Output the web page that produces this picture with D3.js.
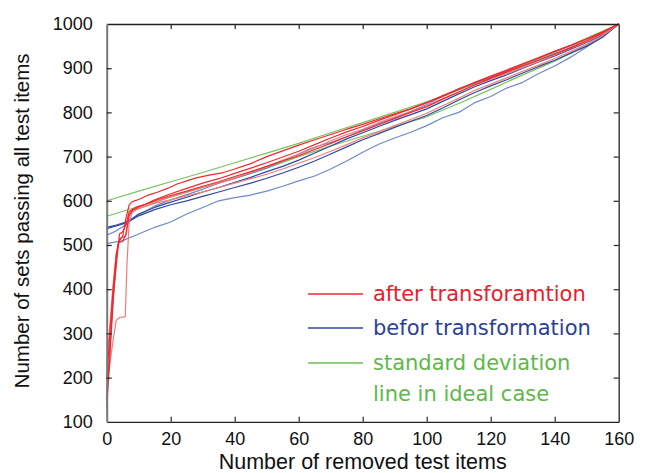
<!DOCTYPE html>
<html>
<head>
<meta charset="utf-8">
<script src="https://cdn.jsdelivr.net/npm/d3@7"></script>
<style>
  html, body { margin: 0; padding: 0; background: #fff; }
  svg { display: block; }
</style>
</head>
<body>
<svg id="chart" width="648" height="473"></svg>
<script>
// ---------- data ----------
const xTicks = [0, 20, 40, 60, 80, 100, 120, 140, 160];
const yTicks = [100, 200, 300, 400, 500, 600, 700, 800, 900, 1000];

const greenUpper = [[0,600],[10,622],[20,643],[30,664],[40,686],[50,708],[60,730],[70,754],[80,777],[90,800],[100,824],[110,851],[120,878],[130,907],[140,936],[150,968],[160,1000]];
const greenLower = [[0,565],[10,587],[20,608],[30,630],[40,650],[50,674],[60,700],[70,724],[80,746],[90,768],[100,790],[110,820],[120,852],[130,885],[140,916],[150,952],[160,1000]];

const red1 = [[0,195],[1,300],[2,400],[3,480],[4,510],[5,520],[6,560],[7,590],[8,598],[10,603],[13,613],[16,620],[19,628],[22,638],[25,645],[28,652],[32,658],[36,663],[40,672],[45,684],[50,700],[55,713],[60,726],[65,738],[70,750],[75,762],[80,773],[85,785],[90,797],[95,808],[100,822],[105,836],[110,852],[115,867],[120,881],[125,894],[130,909],[135,923],[140,938],[145,951],[150,966],[155,982],[160,1000]];
const red2 = [[0,172],[1,230],[2,285],[3,330],[4,336],[5,337],[5.8,338],[6.3,450],[7,550],[8,575],[10,582],[15,596],[20,610],[25,620],[30,630],[35,640],[40,652],[45,664],[50,678],[55,692],[60,705],[65,720],[70,736],[75,750],[80,762],[85,777],[90,790],[95,802],[100,815],[105,831],[110,846],[115,862],[120,875],[125,888],[130,902],[135,915],[140,930],[145,945],[150,960],[155,978],[160,1000]];
const red3 = [[0,130],[1,250],[2,370],[3,470],[3.6,505],[5,508],[6,525],[7,565],[8,578],[10,586],[15,600],[20,612],[25,622],[30,633],[35,643],[40,655],[45,666],[50,678],[55,690],[60,702],[65,716],[70,730],[75,745],[80,758],[85,772],[90,786],[95,800],[100,813],[105,830],[110,846],[115,862],[120,877],[125,891],[130,905],[135,918],[140,932],[145,946],[150,962],[155,980],[160,1000]];
const red4 = [[0,225],[1,320],[2,410],[3,480],[4,515],[6,520],[7,570],[8,580],[10,583],[15,594],[20,602],[25,611],[30,620],[35,630],[40,640],[45,650],[50,660],[55,672],[60,685],[65,698],[70,712],[75,727],[80,742],[85,756],[90,770],[95,784],[100,798],[105,815],[110,832],[115,850],[120,864],[125,878],[130,893],[135,907],[140,922],[145,938],[150,954],[155,974],[160,1000]];
const red5 = [[0,150],[1,270],[2,380],[3,455],[4,525],[5,530],[6,545],[7,575],[9,585],[12,592],[15,602],[20,616],[25,628],[30,640],[35,650],[40,662],[45,674],[50,686],[55,699],[60,712],[65,727],[70,742],[75,756],[80,768],[85,782],[90,795],[95,808],[100,822],[105,838],[110,853],[115,868],[120,882],[125,896],[130,910],[135,924],[140,938],[145,952],[150,966],[155,982],[160,1000]];

const blue1 = [[0,540],[3,545],[6,552],[8,560],[10,570],[15,585],[20,597],[25,608],[30,620],[35,630],[40,642],[45,653],[50,666],[55,678],[60,692],[65,708],[70,724],[75,740],[80,754],[85,768],[90,782],[95,795],[100,808],[105,825],[110,842],[115,858],[120,872],[125,885],[130,900],[135,914],[140,928],[145,943],[150,958],[155,976],[160,1000]];
const blue2 = [[0,537],[3,543],[6,550],[8,558],[10,566],[15,580],[20,591],[25,600],[30,610],[35,620],[40,630],[45,640],[50,651],[55,663],[60,676],[65,690],[70,706],[75,722],[80,738],[85,752],[90,766],[95,780],[100,793],[105,810],[110,828],[115,845],[120,860],[125,874],[130,889],[135,904],[140,918],[145,934],[150,950],[155,970],[160,1000]];
const blue3 = [[0,522],[3,532],[6,546],[8,558],[10,568],[15,588],[20,602],[25,614],[30,626],[35,640],[40,651],[45,662],[50,674],[55,690],[60,706],[63,716],[66,724],[70,732],[75,745],[80,760],[85,774],[90,788],[95,802],[100,818],[105,836],[110,854],[115,866],[120,878],[125,891],[130,905],[135,919],[140,933],[145,947],[150,962],[155,978],[160,1000]];
const blue4 = [[0,503],[5,510],[10,525],[15,540],[20,552],[25,570],[30,585],[35,600],[40,607],[45,613],[50,622],[55,633],[60,645],[65,656],[70,672],[75,690],[80,710],[85,728],[90,742],[95,755],[100,770],[105,788],[110,800],[115,822],[120,836],[125,855],[130,868],[135,888],[140,905],[145,925],[150,948],[155,972],[160,1000]];

const legendLabels = ["after transforamtion", "befor transformation", "standard deviation", "line in ideal case"];

// ---------- drawing ----------
const svg = d3.select("#chart");
const L = 106.7, R = 618.7, T = 24, B = 421.8;
const x = d3.scaleLinear().domain([0, 160]).range([L, R]);
const y = d3.scaleLinear().domain([100, 1000]).range([B, T]);

const line = d3.line().x(d => x(d[0])).y(d => y(d[1]));

const series = [
  { data: greenUpper, color: "#79c25f" },
  { data: greenLower, color: "#79c25f" },
  { data: blue4, color: "#6f88c8" },
  { data: blue3, color: "#6f88c8" },
  { data: blue2, color: "#2c4aa2" },
  { data: blue1, color: "#2c4aa2" },
  { data: red2, color: "#f27b7b" },
  { data: red4, color: "#f27b7b" },
  { data: red1, color: "#ee2a2e" },
  { data: red3, color: "#ee2a2e" },
  { data: red5, color: "#ee2a2e" }
];

svg.append("g").selectAll("path").data(series).join("path")
  .attr("d", d => line(d.data))
  .attr("fill", "none")
  .attr("stroke", d => d.color)
  .attr("stroke-width", 1.2)
  .attr("stroke-linejoin", "round");

// frame with inward ticks on all sides
const tickLen = 5;
const axisFont = "'Liberation Sans', Arial, sans-serif";
const fmt = d3.format("d");
const axB = svg.append("g").attr("transform", `translate(0,${B})`)
  .call(d3.axisBottom(x).tickValues(xTicks).tickFormat(fmt).tickSizeInner(-tickLen).tickSizeOuter(0).tickPadding(10));
const axT = svg.append("g").attr("transform", `translate(0,${T})`)
  .call(d3.axisTop(x).tickValues(xTicks).tickSizeInner(-tickLen).tickSizeOuter(0).tickFormat(""));
const axL = svg.append("g").attr("transform", `translate(${L},0)`)
  .call(d3.axisLeft(y).tickValues(yTicks).tickFormat(fmt).tickSizeInner(-tickLen).tickSizeOuter(0).tickPadding(14));
const axR = svg.append("g").attr("transform", `translate(${R},0)`)
  .call(d3.axisRight(y).tickValues(yTicks).tickSizeInner(-tickLen).tickSizeOuter(0).tickFormat(""));

[axB, axT, axL, axR].forEach(a => {
  a.select(".domain").attr("stroke", "#222").attr("stroke-width", 1.3);
  a.selectAll(".tick line").attr("stroke", "#222").attr("stroke-width", 1.2);
  a.selectAll("text").attr("fill", "#111").style("font-family", axisFont).style("font-size", "18px");
});
axL.select(".domain").attr("stroke", "#777").attr("stroke-width", 2);
[axB, axT].forEach(a => a.selectAll(".tick line").filter(d => d === 0 || d === 160).remove());
[axL, axR].forEach(a => a.selectAll(".tick line").filter(d => d === 100 || d === 1000).remove());

// axis titles
svg.append("text")
  .attr("x", (L + R) / 2).attr("y", 469)
  .attr("text-anchor", "middle")
  .style("font-family", axisFont).style("font-size", "21.5px").attr("fill", "#111")
  .text("Number of removed test items");
svg.append("text")
  .attr("transform", `translate(29,${(T + B) / 2 - 2}) rotate(-90)`)
  .attr("text-anchor", "middle")
  .style("font-family", axisFont).style("font-size", "20.5px").attr("fill", "#111")
  .text("Number of sets passing all test items");

// legend
const legend = [
  { label: legendLabels[0], line: "#ee2a2e", text: "#e8202a", y: 294, swatch: true },
  { label: legendLabels[1], line: "#2c4aa2", text: "#2b3f98", y: 328, swatch: true },
  { label: legendLabels[2], line: "#6cbf50", text: "#5db848", y: 363, swatch: true },
  { label: legendLabels[3], line: null, text: "#5db848", y: 394, swatch: false }
];
const lg = svg.append("g");
legend.forEach(d => {
  if (d.swatch) {
    lg.append("line").attr("x1", 308).attr("x2", 363).attr("y1", d.y).attr("y2", d.y)
      .attr("stroke", d.line).attr("stroke-width", 1.5);
  }
  lg.append("text").attr("x", 373).attr("y", d.y).attr("dy", "0.35em")
    .style("font-family", "'DejaVu Sans', Verdana, sans-serif").style("font-size", "21px")
    .attr("fill", d.text).text(d.label);
});
</script>
</body>
</html>
